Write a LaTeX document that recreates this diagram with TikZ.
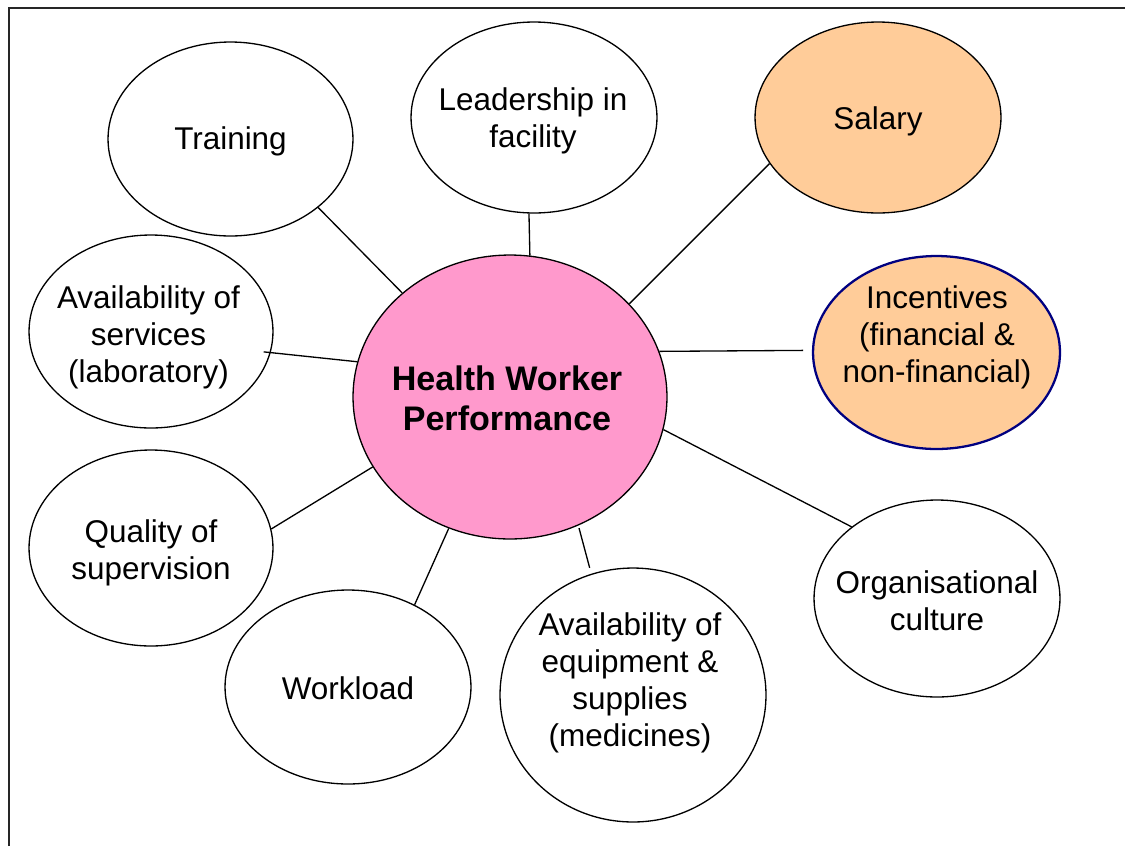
\documentclass[tikz,border=0pt]{standalone}
\usepackage{fontspec}
\setmainfont{Liberation Sans}
\usetikzlibrary{shapes.geometric}
\definecolor{hubpink}{HTML}{FF99CC}
\definecolor{payorange}{HTML}{FFCC99}
\definecolor{navyline}{HTML}{000080}
\begin{document}
\begin{tikzpicture}[x=0.02cm,y=-0.02cm,
  bubble/.style={ellipse, draw=black, line width=0.75pt, fill=white, inner sep=0pt},
  bubtext/.style={align=center, font=\fontsize{17.9}{21}\selectfont, inner sep=0pt},
  hubtext/.style={align=center, font=\bfseries\fontsize{19.4}{22.6}\selectfont, inner sep=0pt},
  spoke/.style={draw=black, line width=0.75pt},
  frameline/.style={draw=black!85, line width=1.4pt}]
\useasboundingbox (0,0) rectangle (1125,846);

% page frame (left and top edges)
\coordinate (fbl) at (9,846);
\coordinate (ftr) at (1125,8);
\draw[frameline] (fbl) |- (ftr);

% central ellipse
\node[bubble, fill=hubpink, minimum width=6.28cm, minimum height=5.68cm] (cen) at (510,397) {};
\node[hubtext] (cen-t) at (507,398) {Health Worker\\Performance};

% surrounding factors
\node[bubble, minimum width=4.90cm, minimum height=3.88cm] (train) at (230.5,139) {};
\node[bubtext] (train-t) at (230.5,141.5) {Training};

\node[bubble, minimum width=4.92cm, minimum height=3.82cm] (lead) at (534,117.5) {};
\node[bubtext] (lead-t) at (533,121) {Leadership in\\facility};

\node[bubble, fill=payorange, minimum width=4.92cm, minimum height=3.82cm] (sal) at (878,117.5) {};
\node[bubtext] (sal-t) at (878,121.5) {Salary};

\node[bubble, fill=payorange, draw=navyline, line width=1.3pt, minimum width=4.94cm, minimum height=3.86cm] (inc) at (936.5,352.5) {};
\node[bubtext] (inc-t) at (937,337.5) {Incentives\\(financial \&\\non-financial)};

\node[bubble, minimum width=4.88cm, minimum height=3.86cm] (serv) at (151,331.5) {};
\node[bubtext] (serv-t) at (148.5,337.5) {Availability of\\services\\(laboratory)};

\node[bubble, minimum width=4.88cm, minimum height=3.92cm] (qual) at (151,548) {};
\node[bubtext] (qual-t) at (151,552.5) {Quality of\\supervision};

\node[bubble, minimum width=4.92cm, minimum height=3.88cm] (work) at (348,687) {};
\node[bubtext] (work-t) at (348,688.5) {Workload};

\node[bubble, minimum width=5.32cm, minimum height=5.08cm] (equip) at (633,695) {};
\node[bubtext] (equip-t) at (630,682.5) {Availability of\\equipment \&\\supplies\\(medicines)};

\node[bubble, minimum width=4.92cm, minimum height=3.94cm] (org) at (937,598.5) {};
\node[bubtext] (org-t) at (937,600.5) {Organisational\\culture};

% spokes
\draw[spoke] (train.-38.7) -- (cen.136.1);
\draw[spoke] (lead.-93) -- (cen.82.4);
\draw[spoke] (sal.203.4) -- (cen.38.5);
\draw[spoke, shorten >=5pt] (cen.17.4) -- (inc.179.4);
\draw[spoke] (cen.-12.2) -- (org.140);
\draw[spoke, shorten >=3.5pt, shorten <=1.5pt] (cen.-62.6) -- (equip.109.1);
\draw[spoke] (cen.245.6) -- (work.51.3);
\draw[spoke] (cen.207.7) -- (qual.9.2);
\draw[spoke, shorten <=-4pt] (serv.-10.2) -- (cen.167.1);
\end{tikzpicture}
\end{document}
